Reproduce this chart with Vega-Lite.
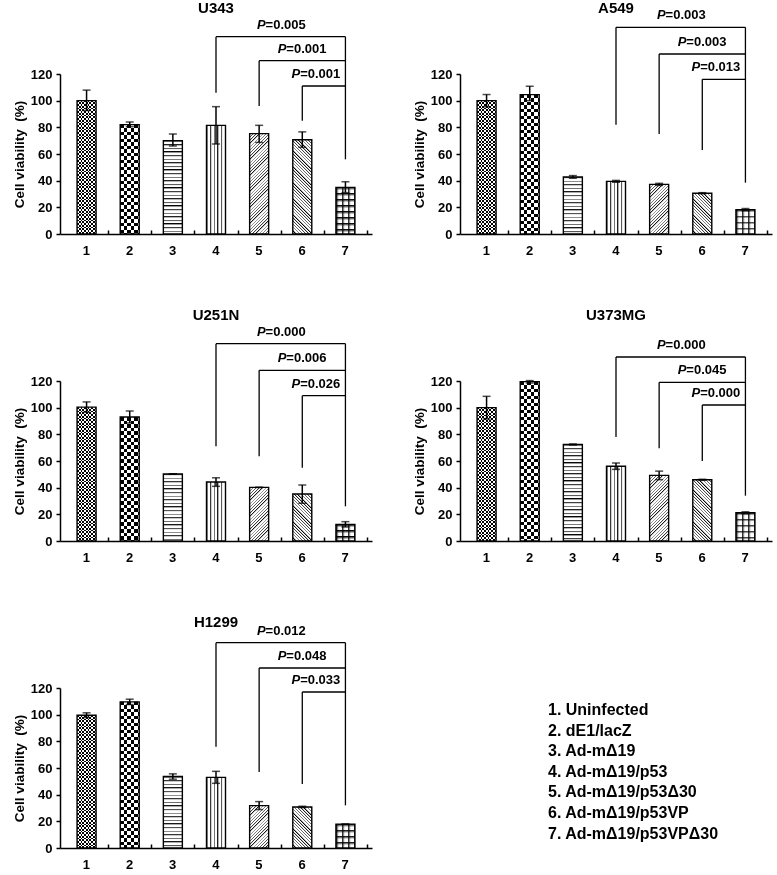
{
"$schema": "https://vega.github.io/schema/vega-lite/v6.json",
"padding": {"left": 12, "top": 0, "right": 2, "bottom": 0},
"params": [
{"name": "LN", "value": [{"offset":0,"color":"#000"},{"offset":0.012,"color":"#fff"},{"offset":0.025,"color":"#fff"},
{"offset":0.025,"color":"#000"},{"offset":0.037,"color":"#fff"},{"offset":0.05,"color":"#fff"},
{"offset":0.05,"color":"#000"},{"offset":0.062,"color":"#fff"},{"offset":0.075,"color":"#fff"},
{"offset":0.075,"color":"#000"},{"offset":0.087,"color":"#fff"},{"offset":0.1,"color":"#fff"},
{"offset":0.1,"color":"#000"},{"offset":0.112,"color":"#fff"},{"offset":0.125,"color":"#fff"},
{"offset":0.125,"color":"#000"},{"offset":0.137,"color":"#fff"},{"offset":0.15,"color":"#fff"},
{"offset":0.15,"color":"#000"},{"offset":0.162,"color":"#fff"},{"offset":0.175,"color":"#fff"},
{"offset":0.175,"color":"#000"},{"offset":0.187,"color":"#fff"},{"offset":0.2,"color":"#fff"},
{"offset":0.2,"color":"#000"},{"offset":0.212,"color":"#fff"},{"offset":0.225,"color":"#fff"},
{"offset":0.225,"color":"#000"},{"offset":0.237,"color":"#fff"},{"offset":0.25,"color":"#fff"},
{"offset":0.25,"color":"#000"},{"offset":0.262,"color":"#fff"},{"offset":0.275,"color":"#fff"},
{"offset":0.275,"color":"#000"},{"offset":0.287,"color":"#fff"},{"offset":0.3,"color":"#fff"},
{"offset":0.3,"color":"#000"},{"offset":0.312,"color":"#fff"},{"offset":0.325,"color":"#fff"},
{"offset":0.325,"color":"#000"},{"offset":0.337,"color":"#fff"},{"offset":0.35,"color":"#fff"},
{"offset":0.35,"color":"#000"},{"offset":0.362,"color":"#fff"},{"offset":0.375,"color":"#fff"},
{"offset":0.375,"color":"#000"},{"offset":0.387,"color":"#fff"},{"offset":0.4,"color":"#fff"},
{"offset":0.4,"color":"#000"},{"offset":0.412,"color":"#fff"},{"offset":0.425,"color":"#fff"},
{"offset":0.425,"color":"#000"},{"offset":0.437,"color":"#fff"},{"offset":0.45,"color":"#fff"},
{"offset":0.45,"color":"#000"},{"offset":0.462,"color":"#fff"},{"offset":0.475,"color":"#fff"},
{"offset":0.475,"color":"#000"},{"offset":0.487,"color":"#fff"},{"offset":0.5,"color":"#fff"},
{"offset":0.5,"color":"#000"},{"offset":0.512,"color":"#fff"},{"offset":0.525,"color":"#fff"},
{"offset":0.525,"color":"#000"},{"offset":0.537,"color":"#fff"},{"offset":0.55,"color":"#fff"},
{"offset":0.55,"color":"#000"},{"offset":0.562,"color":"#fff"},{"offset":0.575,"color":"#fff"},
{"offset":0.575,"color":"#000"},{"offset":0.587,"color":"#fff"},{"offset":0.6,"color":"#fff"},
{"offset":0.6,"color":"#000"},{"offset":0.612,"color":"#fff"},{"offset":0.625,"color":"#fff"},
{"offset":0.625,"color":"#000"},{"offset":0.637,"color":"#fff"},{"offset":0.65,"color":"#fff"},
{"offset":0.65,"color":"#000"},{"offset":0.662,"color":"#fff"},{"offset":0.675,"color":"#fff"},
{"offset":0.675,"color":"#000"},{"offset":0.687,"color":"#fff"},{"offset":0.7,"color":"#fff"},
{"offset":0.7,"color":"#000"},{"offset":0.712,"color":"#fff"},{"offset":0.725,"color":"#fff"},
{"offset":0.725,"color":"#000"},{"offset":0.737,"color":"#fff"},{"offset":0.75,"color":"#fff"},
{"offset":0.75,"color":"#000"},{"offset":0.762,"color":"#fff"},{"offset":0.775,"color":"#fff"},
{"offset":0.775,"color":"#000"},{"offset":0.787,"color":"#fff"},{"offset":0.8,"color":"#fff"},
{"offset":0.8,"color":"#000"},{"offset":0.812,"color":"#fff"},{"offset":0.825,"color":"#fff"},
{"offset":0.825,"color":"#000"},{"offset":0.837,"color":"#fff"},{"offset":0.85,"color":"#fff"},
{"offset":0.85,"color":"#000"},{"offset":0.862,"color":"#fff"},{"offset":0.875,"color":"#fff"},
{"offset":0.875,"color":"#000"},{"offset":0.887,"color":"#fff"},{"offset":0.9,"color":"#fff"},
{"offset":0.9,"color":"#000"},{"offset":0.912,"color":"#fff"},{"offset":0.925,"color":"#fff"},
{"offset":0.925,"color":"#000"},{"offset":0.937,"color":"#fff"},{"offset":0.95,"color":"#fff"},
{"offset":0.95,"color":"#000"},{"offset":0.962,"color":"#fff"},{"offset":0.975,"color":"#fff"},
{"offset":0.975,"color":"#000"},{"offset":0.987,"color":"#fff"},{"offset":1,"color":"#fff"}]},
{"name": "CH", "value": [{"offset":0,"color":"#000"},{"offset":0.0125,"color":"#000"},{"offset":0.0125,"color":"#fff"},{"offset":0.025,"color":"#fff"},
{"offset":0.025,"color":"#000"},{"offset":0.0375,"color":"#000"},{"offset":0.0375,"color":"#fff"},{"offset":0.05,"color":"#fff"},
{"offset":0.05,"color":"#000"},{"offset":0.0625,"color":"#000"},{"offset":0.0625,"color":"#fff"},{"offset":0.075,"color":"#fff"},
{"offset":0.075,"color":"#000"},{"offset":0.0875,"color":"#000"},{"offset":0.0875,"color":"#fff"},{"offset":0.1,"color":"#fff"},
{"offset":0.1,"color":"#000"},{"offset":0.1125,"color":"#000"},{"offset":0.1125,"color":"#fff"},{"offset":0.125,"color":"#fff"},
{"offset":0.125,"color":"#000"},{"offset":0.1375,"color":"#000"},{"offset":0.1375,"color":"#fff"},{"offset":0.15,"color":"#fff"},
{"offset":0.15,"color":"#000"},{"offset":0.1625,"color":"#000"},{"offset":0.1625,"color":"#fff"},{"offset":0.175,"color":"#fff"},
{"offset":0.175,"color":"#000"},{"offset":0.1875,"color":"#000"},{"offset":0.1875,"color":"#fff"},{"offset":0.2,"color":"#fff"},
{"offset":0.2,"color":"#000"},{"offset":0.2125,"color":"#000"},{"offset":0.2125,"color":"#fff"},{"offset":0.225,"color":"#fff"},
{"offset":0.225,"color":"#000"},{"offset":0.2375,"color":"#000"},{"offset":0.2375,"color":"#fff"},{"offset":0.25,"color":"#fff"},
{"offset":0.25,"color":"#000"},{"offset":0.2625,"color":"#000"},{"offset":0.2625,"color":"#fff"},{"offset":0.275,"color":"#fff"},
{"offset":0.275,"color":"#000"},{"offset":0.2875,"color":"#000"},{"offset":0.2875,"color":"#fff"},{"offset":0.3,"color":"#fff"},
{"offset":0.3,"color":"#000"},{"offset":0.3125,"color":"#000"},{"offset":0.3125,"color":"#fff"},{"offset":0.325,"color":"#fff"},
{"offset":0.325,"color":"#000"},{"offset":0.3375,"color":"#000"},{"offset":0.3375,"color":"#fff"},{"offset":0.35,"color":"#fff"},
{"offset":0.35,"color":"#000"},{"offset":0.3625,"color":"#000"},{"offset":0.3625,"color":"#fff"},{"offset":0.375,"color":"#fff"},
{"offset":0.375,"color":"#000"},{"offset":0.3875,"color":"#000"},{"offset":0.3875,"color":"#fff"},{"offset":0.4,"color":"#fff"},
{"offset":0.4,"color":"#000"},{"offset":0.4125,"color":"#000"},{"offset":0.4125,"color":"#fff"},{"offset":0.425,"color":"#fff"},
{"offset":0.425,"color":"#000"},{"offset":0.4375,"color":"#000"},{"offset":0.4375,"color":"#fff"},{"offset":0.45,"color":"#fff"},
{"offset":0.45,"color":"#000"},{"offset":0.4625,"color":"#000"},{"offset":0.4625,"color":"#fff"},{"offset":0.475,"color":"#fff"},
{"offset":0.475,"color":"#000"},{"offset":0.4875,"color":"#000"},{"offset":0.4875,"color":"#fff"},{"offset":0.5,"color":"#fff"},
{"offset":0.5,"color":"#000"},{"offset":0.5125,"color":"#000"},{"offset":0.5125,"color":"#fff"},{"offset":0.525,"color":"#fff"},
{"offset":0.525,"color":"#000"},{"offset":0.5375,"color":"#000"},{"offset":0.5375,"color":"#fff"},{"offset":0.55,"color":"#fff"},
{"offset":0.55,"color":"#000"},{"offset":0.5625,"color":"#000"},{"offset":0.5625,"color":"#fff"},{"offset":0.575,"color":"#fff"},
{"offset":0.575,"color":"#000"},{"offset":0.5875,"color":"#000"},{"offset":0.5875,"color":"#fff"},{"offset":0.6,"color":"#fff"},
{"offset":0.6,"color":"#000"},{"offset":0.6125,"color":"#000"},{"offset":0.6125,"color":"#fff"},{"offset":0.625,"color":"#fff"},
{"offset":0.625,"color":"#000"},{"offset":0.6375,"color":"#000"},{"offset":0.6375,"color":"#fff"},{"offset":0.65,"color":"#fff"},
{"offset":0.65,"color":"#000"},{"offset":0.6625,"color":"#000"},{"offset":0.6625,"color":"#fff"},{"offset":0.675,"color":"#fff"},
{"offset":0.675,"color":"#000"},{"offset":0.6875,"color":"#000"},{"offset":0.6875,"color":"#fff"},{"offset":0.7,"color":"#fff"},
{"offset":0.7,"color":"#000"},{"offset":0.7125,"color":"#000"},{"offset":0.7125,"color":"#fff"},{"offset":0.725,"color":"#fff"},
{"offset":0.725,"color":"#000"},{"offset":0.7375,"color":"#000"},{"offset":0.7375,"color":"#fff"},{"offset":0.75,"color":"#fff"},
{"offset":0.75,"color":"#000"},{"offset":0.7625,"color":"#000"},{"offset":0.7625,"color":"#fff"},{"offset":0.775,"color":"#fff"},
{"offset":0.775,"color":"#000"},{"offset":0.7875,"color":"#000"},{"offset":0.7875,"color":"#fff"},{"offset":0.8,"color":"#fff"},
{"offset":0.8,"color":"#000"},{"offset":0.8125,"color":"#000"},{"offset":0.8125,"color":"#fff"},{"offset":0.825,"color":"#fff"},
{"offset":0.825,"color":"#000"},{"offset":0.8375,"color":"#000"},{"offset":0.8375,"color":"#fff"},{"offset":0.85,"color":"#fff"},
{"offset":0.85,"color":"#000"},{"offset":0.8625,"color":"#000"},{"offset":0.8625,"color":"#fff"},{"offset":0.875,"color":"#fff"},
{"offset":0.875,"color":"#000"},{"offset":0.8875,"color":"#000"},{"offset":0.8875,"color":"#fff"},{"offset":0.9,"color":"#fff"},
{"offset":0.9,"color":"#000"},{"offset":0.9125,"color":"#000"},{"offset":0.9125,"color":"#fff"},{"offset":0.925,"color":"#fff"},
{"offset":0.925,"color":"#000"},{"offset":0.9375,"color":"#000"},{"offset":0.9375,"color":"#fff"},{"offset":0.95,"color":"#fff"},
{"offset":0.95,"color":"#000"},{"offset":0.9625,"color":"#000"},{"offset":0.9625,"color":"#fff"},{"offset":0.975,"color":"#fff"},
{"offset":0.975,"color":"#000"},{"offset":0.9875,"color":"#000"},{"offset":0.9875,"color":"#fff"},{"offset":1,"color":"#fff"}]}
],
"data": {"values": [
{"panel":"U343","kind":"bar","g":1,"v":100,"lo":92.6,"hi":107.9,"name":"1. Uninfected"},
{"panel":"U343","kind":"bar","g":2,"v":82,"lo":80.5,"hi":84,"name":"2. dE1/lacZ"},
{"panel":"U343","kind":"bar","g":3,"v":70,"lo":66,"hi":75,"name":"3. Ad-mΔ19"},
{"panel":"U343","kind":"bar","g":4,"v":81.5,"lo":67.5,"hi":95.5,"name":"4. Ad-mΔ19/p53"},
{"panel":"U343","kind":"bar","g":5,"v":75.3,"lo":68.7,"hi":81.5,"name":"5. Ad-mΔ19/p53Δ30"},
{"panel":"U343","kind":"bar","g":6,"v":70.7,"lo":65,"hi":76.6,"name":"6. Ad-mΔ19/p53VP"},
{"panel":"U343","kind":"bar","g":7,"v":35,"lo":31,"hi":39.2,"name":"7. Ad-mΔ19/p53VPΔ30"},
{"panel":"A549","kind":"bar","g":1,"v":100,"lo":95.4,"hi":104.6,"name":"1. Uninfected"},
{"panel":"A549","kind":"bar","g":2,"v":104.5,"lo":100,"hi":110.8,"name":"2. dE1/lacZ"},
{"panel":"A549","kind":"bar","g":3,"v":42.8,"lo":41.8,"hi":43.8,"name":"3. Ad-mΔ19"},
{"panel":"A549","kind":"bar","g":4,"v":39.5,"lo":38.8,"hi":40.2,"name":"4. Ad-mΔ19/p53"},
{"panel":"A549","kind":"bar","g":5,"v":37.2,"lo":36.4,"hi":38,"name":"5. Ad-mΔ19/p53Δ30"},
{"panel":"A549","kind":"bar","g":6,"v":30.6,"lo":30.2,"hi":31,"name":"6. Ad-mΔ19/p53VP"},
{"panel":"A549","kind":"bar","g":7,"v":18.3,"lo":17.5,"hi":19.1,"name":"7. Ad-mΔ19/p53VPΔ30"},
{"panel":"U251N","kind":"bar","g":1,"v":100.4,"lo":96.5,"hi":104.3,"name":"1. Uninfected"},
{"panel":"U251N","kind":"bar","g":2,"v":93,"lo":88.5,"hi":97.5,"name":"2. dE1/lacZ"},
{"panel":"U251N","kind":"bar","g":3,"v":50.3,"lo":50.3,"hi":50.3,"name":"3. Ad-mΔ19"},
{"panel":"U251N","kind":"bar","g":4,"v":44.2,"lo":41,"hi":47.4,"name":"4. Ad-mΔ19/p53"},
{"panel":"U251N","kind":"bar","g":5,"v":40.2,"lo":40.2,"hi":40.2,"name":"5. Ad-mΔ19/p53Δ30"},
{"panel":"U251N","kind":"bar","g":6,"v":35.2,"lo":28.3,"hi":42,"name":"6. Ad-mΔ19/p53VP"},
{"panel":"U251N","kind":"bar","g":7,"v":12.4,"lo":10.5,"hi":14.5,"name":"7. Ad-mΔ19/p53VPΔ30"},
{"panel":"U373MG","kind":"bar","g":1,"v":100,"lo":91.5,"hi":108.5,"name":"1. Uninfected"},
{"panel":"U373MG","kind":"bar","g":2,"v":119.5,"lo":118.5,"hi":120.3,"name":"2. dE1/lacZ"},
{"panel":"U373MG","kind":"bar","g":3,"v":72.4,"lo":72,"hi":72.8,"name":"3. Ad-mΔ19"},
{"panel":"U373MG","kind":"bar","g":4,"v":56.1,"lo":53.7,"hi":58.5,"name":"4. Ad-mΔ19/p53"},
{"panel":"U373MG","kind":"bar","g":5,"v":49.2,"lo":46,"hi":52.4,"name":"5. Ad-mΔ19/p53Δ30"},
{"panel":"U373MG","kind":"bar","g":6,"v":45.9,"lo":45.5,"hi":46.3,"name":"6. Ad-mΔ19/p53VP"},
{"panel":"U373MG","kind":"bar","g":7,"v":21.2,"lo":20.5,"hi":21.9,"name":"7. Ad-mΔ19/p53VPΔ30"},
{"panel":"H1299","kind":"bar","g":1,"v":99.6,"lo":97.8,"hi":101.4,"name":"1. Uninfected"},
{"panel":"H1299","kind":"bar","g":2,"v":109.6,"lo":107.6,"hi":111.6,"name":"2. dE1/lacZ"},
{"panel":"H1299","kind":"bar","g":3,"v":53.6,"lo":51.6,"hi":55.6,"name":"3. Ad-mΔ19"},
{"panel":"H1299","kind":"bar","g":4,"v":53,"lo":48.5,"hi":57.5,"name":"4. Ad-mΔ19/p53"},
{"panel":"H1299","kind":"bar","g":5,"v":31.8,"lo":28.8,"hi":34.8,"name":"5. Ad-mΔ19/p53Δ30"},
{"panel":"H1299","kind":"bar","g":6,"v":30.8,"lo":30.3,"hi":31.3,"name":"6. Ad-mΔ19/p53VP"},
{"panel":"H1299","kind":"bar","g":7,"v":17.9,"lo":17.9,"hi":17.9,"name":"7. Ad-mΔ19/p53VPΔ30"},
{"panel":"U343","kind":"br","a":4,"b":7,"y1":148,"y2":148},
{"panel":"U343","kind":"br","a":5,"b":7,"y1":130,"y2":130},
{"panel":"U343","kind":"br","a":6,"b":7,"y1":111,"y2":111},
{"panel":"U343","kind":"br","a":4,"b":4,"y1":148,"y2":106},
{"panel":"U343","kind":"br","a":5,"b":5,"y1":130,"y2":96},
{"panel":"U343","kind":"br","a":6,"b":6,"y1":111,"y2":85},
{"panel":"U343","kind":"br","a":7,"b":7,"y1":148,"y2":56},
{"panel":"A549","kind":"br","a":4,"b":7,"y1":155,"y2":155},
{"panel":"A549","kind":"br","a":5,"b":7,"y1":135,"y2":135},
{"panel":"A549","kind":"br","a":6,"b":7,"y1":116,"y2":116},
{"panel":"A549","kind":"br","a":4,"b":4,"y1":155,"y2":82},
{"panel":"A549","kind":"br","a":5,"b":5,"y1":135,"y2":75},
{"panel":"A549","kind":"br","a":6,"b":6,"y1":116,"y2":63},
{"panel":"A549","kind":"br","a":7,"b":7,"y1":155,"y2":38.5},
{"panel":"U251N","kind":"br","a":4,"b":7,"y1":148,"y2":148},
{"panel":"U251N","kind":"br","a":5,"b":7,"y1":128,"y2":128},
{"panel":"U251N","kind":"br","a":6,"b":7,"y1":109,"y2":109},
{"panel":"U251N","kind":"br","a":4,"b":4,"y1":148,"y2":71},
{"panel":"U251N","kind":"br","a":5,"b":5,"y1":128,"y2":63.5},
{"panel":"U251N","kind":"br","a":6,"b":6,"y1":109,"y2":55},
{"panel":"U251N","kind":"br","a":7,"b":7,"y1":148,"y2":26},
{"panel":"U373MG","kind":"br","a":4,"b":7,"y1":138,"y2":138},
{"panel":"U373MG","kind":"br","a":5,"b":7,"y1":119,"y2":119},
{"panel":"U373MG","kind":"br","a":6,"b":7,"y1":102,"y2":102},
{"panel":"U373MG","kind":"br","a":4,"b":4,"y1":138,"y2":78},
{"panel":"U373MG","kind":"br","a":5,"b":5,"y1":119,"y2":69.5},
{"panel":"U373MG","kind":"br","a":6,"b":6,"y1":102,"y2":60},
{"panel":"U373MG","kind":"br","a":7,"b":7,"y1":138,"y2":34},
{"panel":"H1299","kind":"br","a":4,"b":7,"y1":154,"y2":154},
{"panel":"H1299","kind":"br","a":5,"b":7,"y1":135,"y2":135},
{"panel":"H1299","kind":"br","a":6,"b":7,"y1":117,"y2":117},
{"panel":"H1299","kind":"br","a":4,"b":4,"y1":154,"y2":76},
{"panel":"H1299","kind":"br","a":5,"b":5,"y1":135,"y2":57},
{"panel":"H1299","kind":"br","a":6,"b":6,"y1":117,"y2":48},
{"panel":"H1299","kind":"br","a":7,"b":7,"y1":154,"y2":32},
{"panel":"U343","kind":"p","x":5.15,"y":148,"lab":"=0.005"},
{"panel":"U343","kind":"p","x":5.63,"y":130,"lab":"=0.001"},
{"panel":"U343","kind":"p","x":5.95,"y":111,"lab":"=0.001"},
{"panel":"A549","kind":"p","x":5.15,"y":155,"lab":"=0.003"},
{"panel":"A549","kind":"p","x":5.63,"y":135,"lab":"=0.003"},
{"panel":"A549","kind":"p","x":5.95,"y":116,"lab":"=0.013"},
{"panel":"U251N","kind":"p","x":5.15,"y":148,"lab":"=0.000"},
{"panel":"U251N","kind":"p","x":5.63,"y":128,"lab":"=0.006"},
{"panel":"U251N","kind":"p","x":5.95,"y":109,"lab":"=0.026"},
{"panel":"U373MG","kind":"p","x":5.15,"y":138,"lab":"=0.000"},
{"panel":"U373MG","kind":"p","x":5.63,"y":119,"lab":"=0.045"},
{"panel":"U373MG","kind":"p","x":5.95,"y":102,"lab":"=0.000"},
{"panel":"H1299","kind":"p","x":5.15,"y":154,"lab":"=0.012"},
{"panel":"H1299","kind":"p","x":5.63,"y":135,"lab":"=0.048"},
{"panel":"H1299","kind":"p","x":5.95,"y":117,"lab":"=0.033"}
]},
"facet": {"field": "panel", "type": "nominal", "sort": ["U343","A549","U251N","U373MG","H1299"], "title": null,
  "header": {"title": null, "labelFont": "Liberation Sans", "labelFontSize": 15, "labelFontWeight": "bold", "labelColor": "#000", "labelPadding": -11}},
"columns": 2,
"spacing": {"row": 50, "column": 40},
"resolve": {"axis": {"x": "independent", "y": "independent"}},
"spec": {
"width": 312,
"height": 160,
"layer": [
{"transform": [{"filter": "datum.kind=='bar'"}],
 "mark": {"type": "bar", "orient": "vertical", "width": 19, "stroke": null,
   "fill": {"expr": "datum.g==1?{gradient:'linear',x1:0,y1:0,x2:140/19,y2:0,stops:CH}:datum.g==2?{gradient:'linear',x1:0,y1:0,x2:280/19,y2:0,stops:CH}:datum.g==3?{gradient:'linear',x1:0,y1:0,x2:0,y2:144/(datum.v*1.3333),stops:LN}:datum.g==4?{gradient:'linear',x1:0,y1:0,x2:144/19,y2:0,stops:LN}:datum.g==5?{gradient:'linear',x1:0,y1:0,x2:128*19/(361+pow(datum.v*1.3333,2)),y2:128*datum.v*1.3333/(361+pow(datum.v*1.3333,2)),stops:LN}:datum.g==6?{gradient:'linear',x1:0,y1:1,x2:128*19/(361+pow(datum.v*1.3333,2)),y2:1-128*datum.v*1.3333/(361+pow(datum.v*1.3333,2)),stops:LN}:{gradient:'linear',x1:0,y1:0,x2:240/19,y2:0,stops:LN}"}},
 "encoding": {
   "x": {"field": "g", "type": "quantitative", "scale": {"domain": [0.5, 7.5], "nice": false, "zero": false},
     "axis": {"values": [1.5,2.5,3.5,4.5,5.5,6.5,7.5], "tickCount": 20, "labelExpr": "'' + (datum.value - 0.5)", "labelOffset": -22.3,
       "tickSize": -4, "labelPadding": 14, "labelFontSize": 13, "labelOverlap": false, "labelFlush": false, "title": null}},
   "y": {"field": "v", "type": "quantitative", "stack": null, "scale": {"domain": [0, 120], "nice": false},
     "axis": {"values": [0,20,40,60,80,100,120], "tickCount": 20, "tickSize": 4, "labelPadding": 4, "labelFontSize": 13, "labelOverlap": false,
       "title": "Cell viability\u00a0 (%)", "titleFontSize": 13.5, "titlePadding": 4}}
 }},
{"transform": [{"filter": "datum.kind=='bar' && datum.g<=2"}],
 "mark": {"type": "bar", "orient": "vertical", "width": 19, "stroke": null, "blend": "difference",
   "fill": {"expr": "{gradient:'linear',x1:0,y1:0,x2:0,y2:(datum.g==1?140:280)/(datum.v*1.3333),stops:CH}"}},
 "encoding": {"x": {"field": "g", "type": "quantitative"}, "y": {"field": "v", "type": "quantitative", "stack": null}}},
{"transform": [{"filter": "datum.kind=='bar' && datum.g==7"}],
 "mark": {"type": "bar", "orient": "vertical", "width": 19, "stroke": null, "blend": "multiply",
   "fill": {"expr": "{gradient:'linear',x1:0,y1:0,x2:0,y2:240/(datum.v*1.3333),stops:LN}"}},
 "encoding": {"x": {"field": "g", "type": "quantitative"}, "y": {"field": "v", "type": "quantitative", "stack": null}}},
{"transform": [{"filter": "datum.kind=='bar'"}],
 "mark": {"type": "bar", "orient": "vertical", "width": 19, "fill": "#fff", "fillOpacity": 0, "stroke": "#000", "strokeWidth": 1.4},
 "encoding": {"x": {"field": "g", "type": "quantitative"}, "y": {"field": "v", "type": "quantitative", "stack": null}}},
{"transform": [{"filter": "datum.kind=='bar'"}],
 "mark": {"type": "rule", "color": "#000", "strokeWidth": 1.5},
 "encoding": {"x": {"field": "g", "type": "quantitative"}, "y": {"field": "lo", "type": "quantitative"}, "y2": {"field": "hi"}}},
{"transform": [{"filter": "datum.kind=='bar'"}],
 "mark": {"type": "tick", "orient": "horizontal", "color": "#000", "size": 8, "thickness": 1.5},
 "encoding": {"x": {"field": "g", "type": "quantitative"}, "y": {"field": "hi", "type": "quantitative"}}},
{"transform": [{"filter": "datum.kind=='bar'"}],
 "mark": {"type": "tick", "orient": "horizontal", "color": "#000", "size": 8, "thickness": 1.5},
 "encoding": {"x": {"field": "g", "type": "quantitative"}, "y": {"field": "lo", "type": "quantitative"}}},
{"transform": [{"filter": "datum.kind=='br'"}],
 "mark": {"type": "rule", "color": "#000", "strokeWidth": 1.3},
 "encoding": {"x": {"field": "a", "type": "quantitative"}, "x2": {"field": "b"}, "y": {"field": "y1", "type": "quantitative"}, "y2": {"field": "y2"}}},
{"transform": [{"filter": "datum.kind=='p'"}],
 "mark": {"type": "text", "text": "P", "align": "right", "baseline": "middle", "dy": -12, "fontStyle": "italic", "fontWeight": "bold", "fontSize": 13, "color": "#000"},
 "encoding": {"x": {"field": "x", "type": "quantitative"}, "y": {"field": "y", "type": "quantitative"}}},
{"transform": [{"filter": "datum.kind=='p'"}],
 "mark": {"type": "text", "align": "left", "baseline": "middle", "dy": -12, "fontWeight": "bold", "fontSize": 13, "color": "#000"},
 "encoding": {"x": {"field": "x", "type": "quantitative"}, "y": {"field": "y", "type": "quantitative"}, "text": {"field": "lab"}}},
{"transform": [{"filter": "datum.kind=='bar' && datum.g==4"}],
 "mark": {"type": "rule", "strokeOpacity": 0},
 "encoding": {"y": {"datum": 172, "type": "quantitative"}}},
{"transform": [{"filter": "datum.kind=='bar'"}],
 "mark": {"type": "point", "opacity": 0},
 "encoding": {"x": {"field": "g", "type": "quantitative"}, "y": {"field": "v", "type": "quantitative"},
   "shape": {"field": "name", "type": "nominal",
     "legend": {"orient": "none", "legendX": 472, "legendY": 628, "title": null, "symbolOpacity": 0, "symbolSize": 0, "symbolStrokeWidth": 0,
       "labelFont": "Liberation Sans", "labelFontSize": 16, "labelFontWeight": "bold", "labelColor": "#000", "rowPadding": 4.6, "labelLimit": 400, "labelOffset": 0}}}}
]},
"config": {
  "view": {"stroke": null},
  "font": "Liberation Sans",
  "axis": {"domainColor": "#000", "tickColor": "#000", "labelColor": "#000", "titleColor": "#000", "labelFont": "Liberation Sans", "titleFont": "Liberation Sans",
    "labelFontWeight": "bold", "titleFontWeight": "bold", "grid": false, "domainWidth": 1.5, "tickWidth": 1.5, "labelOverlap": false}
}
}
